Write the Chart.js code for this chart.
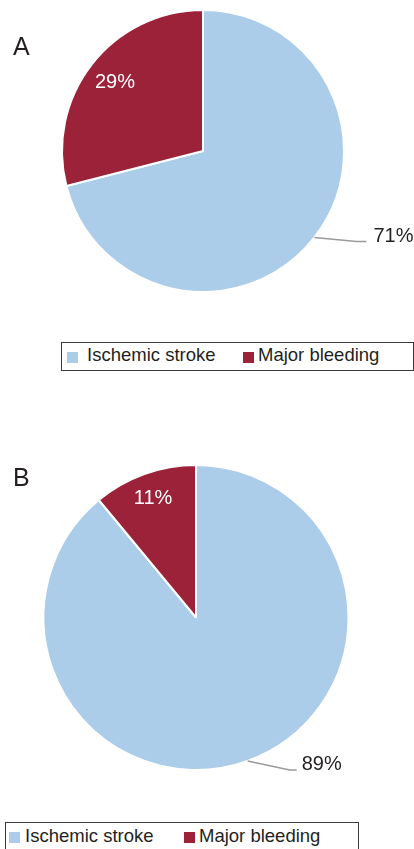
<!DOCTYPE html>
<html>
<head>
<meta charset="utf-8">
<script src="https://cdn.jsdelivr.net/npm/chart.js@4.4.1/dist/chart.umd.min.js"></script>
<style>
  html, body { margin: 0; padding: 0; background: #fff; }
  body { width: 414px; height: 849px; position: relative; overflow: hidden;
         font-family: "Liberation Sans", Arial, sans-serif; color: #231f20; }
  canvas { position: absolute; left: 0; }
  .letter { position: absolute; font-size: 25px; line-height: 25px; }
  .legend { position: absolute; border: 1px solid #3a3a3a; box-sizing: border-box; }
  .sw { position: absolute; width: 11px; height: 11px; }
  .lt { position: absolute; font-size: 18.5px; line-height: 18.5px; white-space: nowrap; }
</style>
</head>
<body>
<canvas id="chartA" width="414" height="330" style="top:0px"></canvas>
<canvas id="chartB" width="414" height="380" style="top:440px"></canvas>
<script>
// ---- Data ----
const categories = ['Ischemic stroke', 'Major bleeding'];
const valuesA = [71, 29];
const valuesB = [89, 11];
const panelLabels = ['A', 'B'];

// ---- Styles ----
const colors = ['#abcdea', '#9b2238'];
const textColor = '#231f20';
const FONT = '"Liberation Sans", Arial, sans-serif';

function pieLabelPlugin(opts) {
  return {
    id: 'pieLabels',
    afterDatasetsDraw(chart) {
      const ctx = chart.ctx;
      const meta = chart.getDatasetMeta(0);
      const data = chart.data.datasets[0].data;
      meta.data.forEach((arc, i) => {
        const p = arc.getProps(['x', 'y', 'startAngle', 'endAngle', 'outerRadius'], true);
        const mid = (p.startAngle + p.endAngle) / 2;
        const label = data[i] + '%';
        ctx.save();
        ctx.font = '20px ' + FONT;
        if (opts.modes[i] === 'inside') {
          const r = p.outerRadius * opts.insideFrac;
          ctx.fillStyle = '#ffffff';
          ctx.textAlign = 'center';
          ctx.textBaseline = 'middle';
          ctx.fillText(label, p.x + r * Math.cos(mid), p.y + r * Math.sin(mid));
        } else {
          const sx = p.x + p.outerRadius * Math.cos(mid);
          const sy = p.y + p.outerRadius * Math.sin(mid);
          const ex = sx + opts.leader.dx, ey = sy + opts.leader.dy;
          const hx = ex + opts.leader.h;
          ctx.strokeStyle = '#9a9a9a';
          ctx.lineWidth = 1.5;
          ctx.beginPath();
          ctx.moveTo(sx, sy);
          ctx.lineTo(ex, ey);
          ctx.lineTo(hx, ey);
          ctx.stroke();
          ctx.fillStyle = textColor;
          ctx.textAlign = 'left';
          ctx.textBaseline = 'alphabetic';
          ctx.fillText(label, hx + opts.leader.gap, ey + opts.leader.base);
        }
        ctx.restore();
      });
    }
  };
}

function makePie(id, values, padding, labelOpts) {
  return new Chart(document.getElementById(id), {
    type: 'pie',
    data: {
      labels: categories,
      datasets: [{
        data: values,
        backgroundColor: colors,
        borderColor: '#ffffff',
        borderWidth: 2
      }]
    },
    options: {
      responsive: false,
      animation: false,
      devicePixelRatio: 1,
      layout: { padding: padding },
      plugins: { legend: { display: false }, tooltip: { enabled: false } }
    },
    plugins: [pieLabelPlugin(labelOpts)]
  });
}

makePie('chartA', valuesA, { left: 61, right: 69, top: 9, bottom: 37 },
  { modes: ['outside', 'inside'], insideFrac: 0.79,
    leader: { dx: 42, dy: 4, h: 10, gap: 7, base: 1 } });
makePie('chartB', valuesB, { left: 42.5, right: 64.5, top: 24, bottom: 49 },
  { modes: ['outside', 'inside'], insideFrac: 0.83,
    leader: { dx: 42, dy: 9, h: 7, gap: 5, base: 0 } });

// ---- Panel letters and legends (HTML text) ----
const panels = [
  { letterTop: 34, letterLeft: 13,
    box: { left: 61, top: 342, width: 353, height: 29 },
    swLeft: [67, 243], txtLeft: [87, 258], swTop: 352, txtTop: 346.3 },
  { letterTop: 465, letterLeft: 13,
    box: { left: 5, top: 822, width: 354, height: 32 },
    swLeft: [8.5, 183.5], txtLeft: [25, 199], swTop: 832, txtTop: 827.3 }
];

panels.forEach((pl, k) => {
  const L = document.createElement('div');
  L.className = 'letter';
  L.textContent = panelLabels[k];
  L.style.left = pl.letterLeft + 'px';
  L.style.top = pl.letterTop + 'px';
  document.body.appendChild(L);

  const box = document.createElement('div');
  box.className = 'legend';
  Object.assign(box.style, {
    left: pl.box.left + 'px', top: pl.box.top + 'px',
    width: pl.box.width + 'px', height: pl.box.height + 'px'
  });
  document.body.appendChild(box);

  categories.forEach((c, i) => {
    const sw = document.createElement('div');
    sw.className = 'sw';
    sw.style.left = pl.swLeft[i] + 'px';
    sw.style.top = pl.swTop + 'px';
    sw.style.background = colors[i];
    document.body.appendChild(sw);
    const t = document.createElement('div');
    t.className = 'lt';
    t.textContent = c;
    t.style.left = pl.txtLeft[i] + 'px';
    t.style.top = pl.txtTop + 'px';
    document.body.appendChild(t);
  });
});
</script>
</body>
</html>
